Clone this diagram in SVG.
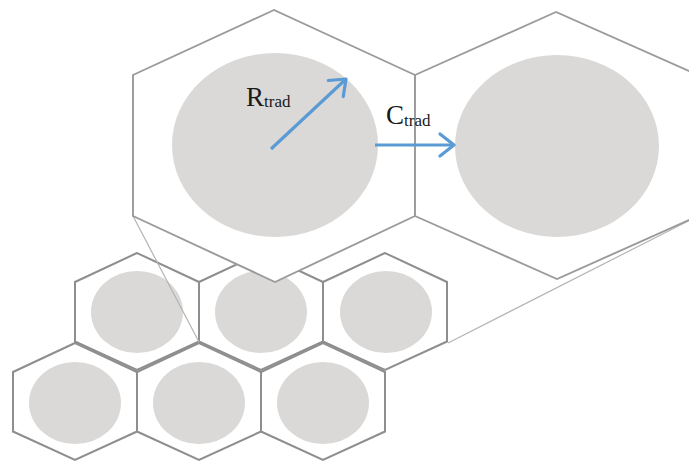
<svg xmlns="http://www.w3.org/2000/svg" xmlns:xlink="http://www.w3.org/1999/xlink" width="689" height="463" viewBox="0 0 689 463">
  <style>
    .bighex { fill: #ffffff; stroke: #9a9a9a; stroke-width: 1.9; stroke-linejoin: miter; }
    .smallhex { fill: #ffffff; stroke: #8e8e8e; stroke-width: 2; }
    .cell { fill: #dbd9d7; }
    .zoomline { fill: none; stroke: #b4b4b4; stroke-width: 1.2; }
    .arrow { fill: none; stroke: #5b9bd5; stroke-width: 3.2; marker-end: url(#chev); }
    .lbl { font-family: "Liberation Serif", "Times New Roman", serif; fill: #1a1a1a; }
  </style>
  <defs>
    <polygon id="shex" points="0,-58.5 -62,-29.5 -62,30 0,58.5 62,30 62,-29.5"/>
    <marker id="chev" markerUnits="userSpaceOnUse" viewBox="-17 -13 21 26" refX="0" refY="0" markerWidth="21" markerHeight="26" orient="auto">
      <path d="M-14,-11 L0,0 L-14,11" fill="none" stroke="#5b9bd5" stroke-width="3.2" stroke-linecap="round" stroke-linejoin="round"/>
    </marker>
  </defs>
  <rect width="689" height="463" fill="#ffffff"/>

  <g id="cell-top-left">
    <use xlink:href="#shex" href="#shex" x="137" y="311.5" class="smallhex"/>
    <ellipse class="cell" cx="137" cy="312" rx="46" ry="41"/>
  </g>
  <g id="cell-top-middle">
    <use xlink:href="#shex" href="#shex" x="261" y="311.5" class="smallhex"/>
    <ellipse class="cell" cx="261" cy="312" rx="46" ry="41"/>
  </g>
  <g id="cell-top-right">
    <use xlink:href="#shex" href="#shex" x="385" y="311.5" class="smallhex"/>
    <ellipse class="cell" cx="386" cy="312" rx="46" ry="41"/>
  </g>
  <g id="cell-bottom-left">
    <use xlink:href="#shex" href="#shex" x="75" y="401.5" class="smallhex"/>
    <ellipse class="cell" cx="75" cy="403" rx="46" ry="41"/>
  </g>
  <g id="cell-bottom-middle">
    <use xlink:href="#shex" href="#shex" x="199" y="401.5" class="smallhex"/>
    <ellipse class="cell" cx="199" cy="403" rx="46" ry="41"/>
  </g>
  <g id="cell-bottom-right">
    <use xlink:href="#shex" href="#shex" x="323" y="401.5" class="smallhex"/>
    <ellipse class="cell" cx="323" cy="403" rx="46" ry="41"/>
  </g>

  <g id="connectors">
    <line class="zoomline" x1="133" y1="216" x2="199" y2="342"/>
    <line class="zoomline" x1="698" y1="216" x2="448" y2="343"/>
  </g>

  <g id="big-cell-left">
    <polygon class="bighex" points="274,10 133,75 133,216 275,282 415,216 415,75"/>
    <ellipse class="cell" cx="275" cy="145" rx="103" ry="92"/>
  </g>
  <g id="big-cell-right">
    <polygon class="bighex" points="556,12 415,75 415,216 557,279 698,216 698,75"/>
    <ellipse class="cell" cx="557" cy="146" rx="102" ry="91"/>
  </g>

  <g id="arrows">
    <line class="arrow" x1="271" y1="149" x2="346" y2="79"/>
    <line class="arrow" x1="375" y1="145" x2="454" y2="145"/>
  </g>

  <g id="label-R">
    <text class="lbl" x="246" y="106" font-size="27">R<tspan font-size="17" dy="1">trad</tspan></text>
  </g>
  <g id="label-C">
    <text class="lbl" x="386" y="124" font-size="27">C<tspan font-size="17" dy="2">trad</tspan></text>
  </g>
</svg>
